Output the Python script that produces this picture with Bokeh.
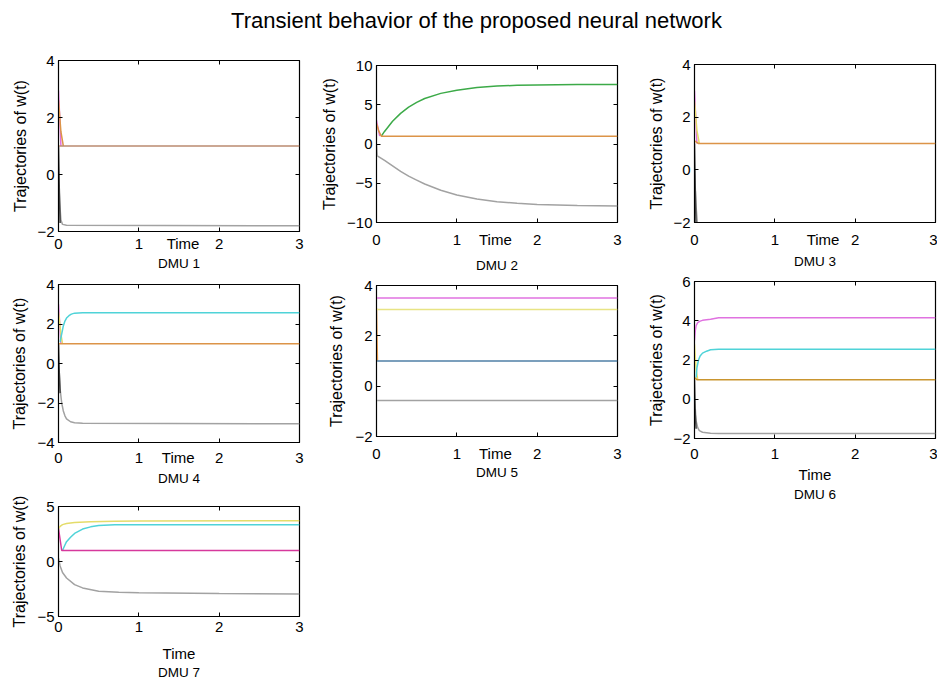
from bokeh.plotting import figure
from bokeh.layouts import column, row
from bokeh.models import FixedTicker, LinearAxis, Label
from bokeh.embed import file_html
from bokeh.resources import INLINE

FONT = "Liberation Sans"

TITLE = "Transient behavior of the proposed neural network"
X_LABEL = "Time"
Y_LABEL = "Trajectories of w(t)"
X_TICKS = [0, 1, 2, 3]

GRAY = "#a2a2a2"
BLACK = "#3a3a3a"
ORANGE = "#dc9448"
BROWN = "#bb8a70"
GREEN = "#3caa48"
CYAN = "#4fd3d8"
MAGENTA = "#e072e0"
YELLOW = "#e4dc6a"
LIGHTYELLOW = "#e8e484"
BLUE = "#4f7fa6"
PINK = "#d6389c"
GOLD = "#c9952f"

# ---------------- DMU 1 ----------------
dmu1_magenta_t = [0, 0.015, 0.03]
dmu1_magenta_w = [2.95, 2.0, 1.0]
dmu1_yellow_t = [0, 0.03, 0.06]
dmu1_yellow_w = [2.6, 1.5, 1.0]
dmu1_brown_t = [0, 0.05, 3.0]
dmu1_brown_w = [1.0, 1.0, 1.0]
dmu1_black_t = [0, 0.01, 0.02]
dmu1_black_w = [1.0, -0.5, -1.7]
dmu1_gray_t = [0, 0.015, 0.03, 0.05, 0.1, 3.0]
dmu1_gray_w = [0.0, -1.0, -1.6, -1.75, -1.78, -1.8]

# ---------------- DMU 2 ----------------
dmu2_green_t = [0.06, 0.1, 0.2, 0.3, 0.4, 0.5, 0.6, 0.8, 1.0, 1.25, 1.5, 1.75, 2.0, 2.5, 3.0]
dmu2_green_w = [1.0, 1.6, 2.9, 3.9, 4.7, 5.3, 5.8, 6.45, 6.85, 7.2, 7.38, 7.48, 7.53, 7.57, 7.58]
dmu2_magenta_t = [0, 0.02, 0.04]
dmu2_magenta_w = [3.0, 2.0, 1.0]
dmu2_orange_t = [0, 0.03, 0.06, 3.0]
dmu2_orange_w = [2.6, 1.6, 1.0, 1.0]
dmu2_gray_t = [0, 0.01, 0.1, 0.2, 0.3, 0.4, 0.5, 0.6, 0.8, 1.0, 1.25, 1.5, 1.75, 2.0, 2.5, 3.0]
dmu2_gray_w = [0.0, -1.5, -2.1, -2.8, -3.5, -4.1, -4.6, -5.1, -5.9, -6.5, -7.0, -7.35, -7.55, -7.7, -7.85, -7.9]

# ---------------- DMU 3 ----------------
dmu3_magenta_t = [0, 0.015, 0.03]
dmu3_magenta_w = [3.0, 2.0, 1.0]
dmu3_yellow_t = [0, 0.03, 0.06]
dmu3_yellow_w = [2.6, 1.5, 1.0]
dmu3_orange_t = [0, 0.05, 3.0]
dmu3_orange_w = [1.1, 1.0, 1.0]
dmu3_black_t = [0, 0.01, 0.02]
dmu3_black_w = [1.0, -0.8, -2.2]
dmu3_gray_t = [0, 0.02, 0.04, 0.06, 3.0]
dmu3_gray_w = [0.0, -1.4, -2.2, -2.6, -2.8]

# ---------------- DMU 4 ----------------
dmu4_magenta_t = [0, 0.015, 0.03]
dmu4_magenta_w = [3.0, 2.0, 1.0]
dmu4_yellow_t = [0, 0.03, 0.05]
dmu4_yellow_w = [2.6, 1.5, 1.0]
dmu4_orange_t = [0, 0.04, 3.0]
dmu4_orange_w = [1.0, 1.0, 1.0]
dmu4_cyan_t = [0.02, 0.04, 0.06, 0.08, 0.1, 0.13, 0.16, 0.2, 0.3, 3.0]
dmu4_cyan_w = [1.1, 1.5, 1.9, 2.15, 2.3, 2.42, 2.5, 2.55, 2.57, 2.57]
dmu4_black_t = [0, 0.01, 0.02]
dmu4_black_w = [1.0, -0.5, -1.5]
dmu4_gray_t = [0.01, 0.02, 0.04, 0.06, 0.08, 0.1, 0.15, 0.2, 0.3, 3.0]
dmu4_gray_w = [-0.5, -1.3, -2.0, -2.4, -2.65, -2.8, -2.95, -3.0, -3.03, -3.05]

# ---------------- DMU 5 ----------------
dmu5_magenta_t = [0, 3.0]
dmu5_magenta_w = [3.5, 3.5]
dmu5_yellow_t = [0, 3.0]
dmu5_yellow_w = [3.05, 3.05]
dmu5_orange_t = [0, 0.006, 0.012]
dmu5_orange_w = [3.1, 2.0, 1.0]
dmu5_blue_t = [0, 3.0]
dmu5_blue_w = [1.0, 1.0]
dmu5_gray_t = [0, 3.0]
dmu5_gray_w = [-0.57, -0.57]

# ---------------- DMU 6 ----------------
dmu6_magenta_t = [0, 0.01, 0.02, 0.04, 0.07, 0.1, 0.2, 0.3, 3.0]
dmu6_magenta_w = [3.0, 3.5, 3.75, 3.9, 3.98, 4.02, 4.08, 4.15, 4.15]
dmu6_cyan_t = [0.02, 0.03, 0.05, 0.07, 0.1, 0.15, 0.2, 0.3, 3.0]
dmu6_cyan_w = [1.1, 1.6, 2.0, 2.2, 2.35, 2.45, 2.52, 2.55, 2.55]
dmu6_yellow_t = [0, 0.02, 0.04]
dmu6_yellow_w = [2.8, 1.5, 1.0]
dmu6_gold_t = [0, 0.03, 3.0]
dmu6_gold_w = [1.1, 1.0, 1.0]
dmu6_black_t = [0, 0.01, 0.02]
dmu6_black_w = [1.0, -0.8, -1.5]
dmu6_gray_t = [0.01, 0.02, 0.04, 0.06, 0.1, 0.2, 0.3, 3.0]
dmu6_gray_w = [-0.5, -1.1, -1.45, -1.6, -1.68, -1.73, -1.75, -1.75]

# ---------------- DMU 7 ----------------
dmu7_yellow_t = [0, 0.02, 0.05, 0.1, 0.2, 0.4, 0.7, 1.0, 3.0]
dmu7_yellow_w = [3.0, 3.2, 3.35, 3.45, 3.55, 3.62, 3.66, 3.68, 3.7]
dmu7_cyan_t = [0.05, 0.08, 0.1, 0.15, 0.2, 0.3, 0.4, 0.5, 0.7, 1.0, 3.0]
dmu7_cyan_w = [1.0, 1.5, 1.8, 2.2, 2.55, 2.95, 3.15, 3.27, 3.33, 3.35, 3.35]
dmu7_pink_t = [0, 0.02, 0.04, 3.0]
dmu7_pink_w = [3.0, 2.0, 1.0, 1.0]
dmu7_gray_t = [0, 0.02, 0.05, 0.1, 0.2, 0.3, 0.5, 0.75, 1.0, 2.0, 3.0]
dmu7_gray_w = [0.3, -0.4, -1.0, -1.5, -2.1, -2.4, -2.7, -2.8, -2.85, -2.92, -2.95]

DMU_NAMES = ["DMU 1", "DMU 2", "DMU 3", "DMU 4", "DMU 5", "DMU 6", "DMU 7"]

SERIES = [
    [(dmu1_gray_t, dmu1_gray_w, GRAY), (dmu1_black_t, dmu1_black_w, BLACK),
     (dmu1_magenta_t, dmu1_magenta_w, MAGENTA), (dmu1_yellow_t, dmu1_yellow_w, ORANGE),
     (dmu1_brown_t, dmu1_brown_w, BROWN)],
    [(dmu2_gray_t, dmu2_gray_w, GRAY), (dmu2_green_t, dmu2_green_w, GREEN),
     (dmu2_magenta_t, dmu2_magenta_w, MAGENTA), (dmu2_orange_t, dmu2_orange_w, ORANGE)],
    [(dmu3_gray_t, dmu3_gray_w, GRAY), (dmu3_black_t, dmu3_black_w, BLACK),
     (dmu3_magenta_t, dmu3_magenta_w, MAGENTA), (dmu3_yellow_t, dmu3_yellow_w, YELLOW),
     (dmu3_orange_t, dmu3_orange_w, ORANGE)],
    [(dmu4_gray_t, dmu4_gray_w, GRAY), (dmu4_black_t, dmu4_black_w, BLACK),
     (dmu4_magenta_t, dmu4_magenta_w, MAGENTA), (dmu4_yellow_t, dmu4_yellow_w, YELLOW),
     (dmu4_cyan_t, dmu4_cyan_w, CYAN), (dmu4_orange_t, dmu4_orange_w, ORANGE)],
    [(dmu5_gray_t, dmu5_gray_w, GRAY), (dmu5_orange_t, dmu5_orange_w, ORANGE),
     (dmu5_blue_t, dmu5_blue_w, BLUE), (dmu5_yellow_t, dmu5_yellow_w, LIGHTYELLOW),
     (dmu5_magenta_t, dmu5_magenta_w, MAGENTA)],
    [(dmu6_gray_t, dmu6_gray_w, GRAY), (dmu6_black_t, dmu6_black_w, BLACK),
     (dmu6_yellow_t, dmu6_yellow_w, YELLOW), (dmu6_cyan_t, dmu6_cyan_w, CYAN),
     (dmu6_magenta_t, dmu6_magenta_w, MAGENTA), (dmu6_gold_t, dmu6_gold_w, GOLD)],
    [(dmu7_gray_t, dmu7_gray_w, GRAY), (dmu7_yellow_t, dmu7_yellow_w, YELLOW),
     (dmu7_cyan_t, dmu7_cyan_w, CYAN), (dmu7_pink_t, dmu7_pink_w, PINK)],
]

Y_RANGES = [(-2, 4), (-10, 10), (-2, 4), (-4, 4), (-2, 4), (-2, 6), (-5, 5)]
Y_TICKS = [[-2, 0, 2, 4], [-10, -5, 0, 5, 10], [-2, 0, 2, 4], [-4, -2, 0, 2, 4],
           [-2, 0, 2, 4], [-2, 0, 2, 4, 6], [-5, 0, 5]]

# Layout in pixels.  fw/fh: frame size; bl/br/bt/bb: borders;
# xs: x tick-label standoff; ys: y axis-label standoff;
# tpos: where "Time" sits in the tick row (None -> "Time" is an axis label);
# als: standoff of the label under the tick row; dls: standoff of the DMU line.
LAYOUT = [
    dict(fw=241, fh=171, bl=58, br=19, bt=20, bb=43, xs=3, ys=5, tpos=1.55, als=1, dls=0),
    dict(fw=241, fh=157, bl=58, br=19, bt=25, bb=54, xs=8, ys=6, tpos=1.48, als=7, dls=0),
    dict(fw=241, fh=158, bl=58, br=2, bt=24, bb=50, xs=8, ys=5, tpos=1.6, als=3, dls=0),
    dict(fw=241, fh=158, bl=58, br=19, bt=10, bb=47, xs=6, ys=6, tpos=1.49, als=2, dls=0),
    dict(fw=241, fh=151, bl=58, br=19, bt=9, bb=47, xs=8, ys=7, tpos=1.48, als=0, dls=0),
    dict(fw=241, fh=157, bl=58, br=2, bt=9, bb=62, xs=10, ys=5, tpos=None, als=4, dls=1),
    dict(fw=241, fh=110, bl=58, br=19, bt=17, bb=60, xs=5, ys=6, tpos=None, als=10, dls=0),
]


def base_axis_style(ax):
    ax.axis_line_color = "black"
    ax.major_tick_line_color = "black"
    ax.minor_tick_line_color = "black"
    ax.major_tick_in = 4
    ax.major_tick_out = 0
    ax.minor_tick_in = 4
    ax.minor_tick_out = 0
    ax.major_label_text_font = FONT
    ax.major_label_text_font_size = "15px"
    ax.major_label_text_color = "black"
    ax.axis_label_text_font = FONT
    ax.axis_label_text_font_style = "normal"
    ax.axis_label_text_color = "black"


def make_panel(i):
    L = LAYOUT[i]
    y0, y1 = Y_RANGES[i]
    p = figure(frame_width=L["fw"], frame_height=L["fh"], x_range=(0, 3), y_range=(y0, y1),
               toolbar_location=None, output_backend="svg",
               min_border_left=L["bl"], min_border_right=L["br"],
               min_border_top=L["bt"], min_border_bottom=L["bb"])
    p.grid.visible = False
    p.outline_line_color = "black"
    p.outline_line_width = 1.2
    p.background_fill_color = "white"
    p.border_fill_color = "white"

    # left axis
    ya = p.yaxis[0]
    base_axis_style(ya)
    ya.ticker = FixedTicker(ticks=Y_TICKS[i])
    ya.minor_tick_line_color = None
    ya.major_label_standoff = 4
    ya.axis_label = Y_LABEL
    ya.axis_label_text_font_size = "16px"
    ya.axis_label_standoff = L["ys"]

    # bottom axis
    xa = p.xaxis[0]
    base_axis_style(xa)
    xa.major_label_standoff = L["xs"]
    if L["tpos"] is not None:
        ticks = sorted(X_TICKS + [L["tpos"]])
        xa.ticker = FixedTicker(ticks=ticks, minor_ticks=X_TICKS)
        xa.major_tick_line_color = None
        overrides = {t: str(t) for t in X_TICKS}
        overrides[L["tpos"]] = X_LABEL
        xa.major_label_overrides = overrides
        xa.axis_label = DMU_NAMES[i]
        xa.axis_label_text_font_size = "13.5px"
        xa.axis_label_standoff = L["als"]
    else:
        xa.ticker = FixedTicker(ticks=X_TICKS)
        xa.minor_tick_line_color = None
        xa.axis_label = X_LABEL
        xa.axis_label_text_font_size = "15px"
        xa.axis_label_standoff = L["als"]
        dmu_ax = LinearAxis(ticker=FixedTicker(ticks=[]))
        base_axis_style(dmu_ax)
        dmu_ax.axis_line_color = None
        dmu_ax.major_label_standoff = 0
        dmu_ax.axis_label = DMU_NAMES[i]
        dmu_ax.axis_label_text_font_size = "13.5px"
        dmu_ax.axis_label_standoff = L["dls"]
        p.add_layout(dmu_ax, "below")

    # inward tick marks on top and right sides
    top = LinearAxis(ticker=FixedTicker(ticks=[], minor_ticks=X_TICKS))
    base_axis_style(top)
    top.axis_line_color = None
    top.major_label_standoff = 0
    p.add_layout(top, "above")
    if L["br"] > 5:
        right = LinearAxis(ticker=FixedTicker(ticks=[], minor_ticks=Y_TICKS[i]))
        base_axis_style(right)
        right.axis_line_color = None
        right.major_label_standoff = 0
        p.add_layout(right, "right")

    for t, w, c in SERIES[i]:
        p.line(t, w, line_color=c, line_width=1.5)
    return p


panels = [make_panel(i) for i in range(7)]

title_fig = figure(width=937, height=40, x_range=(0, 1), y_range=(0, 1),
                   toolbar_location=None, output_backend="svg",
                   min_border=0)
title_fig.axis.visible = False
title_fig.grid.visible = False
title_fig.outline_line_color = None
title_fig.add_layout(Label(x=0.508, y=0.5, text=TITLE, text_align="center",
                           text_baseline="middle", text_font=FONT,
                           text_font_size="22px", text_color="black"))

layout = column(
    title_fig,
    row(column(panels[0], panels[3], panels[6]),
        column(panels[1], panels[4]),
        column(panels[2], panels[5])),
)

open("out.html", "w").write(file_html(layout, INLINE))
